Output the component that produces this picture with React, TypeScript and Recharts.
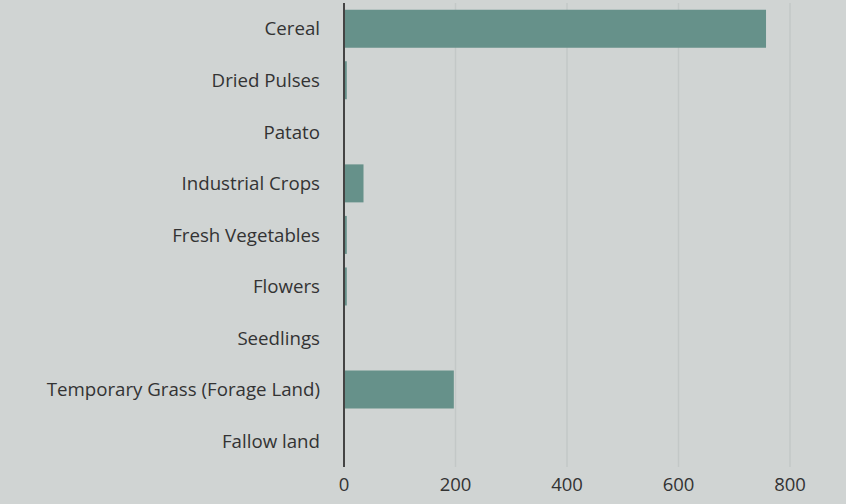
import React from "react";
import { BarChart, Bar, XAxis, YAxis, CartesianGrid } from "recharts";

const categories = [
  "Cereal",
  "Dried Pulses",
  "Patato",
  "Industrial Crops",
  "Fresh Vegetables",
  "Flowers",
  "Seedlings",
  "Temporary Grass (Forage Land)",
  "Fallow land",
];
const values = [757, 5, 0, 35, 5, 5, 0, 197, 0];
const xTicks = [0, 200, 400, 600, 800];

const data = categories.map((c, i) => ({ name: c, value: values[i] }));

const FONT = "'Open Sans', Lato, sans-serif";

export default function App() {
  return (
    <div
      style={{
        position: "absolute",
        left: 0,
        top: 0,
        width: 846,
        height: 504,
        background: "#d0d4d3",
      }}
    >
      <BarChart
        width={846}
        height={504}
        data={data}
        layout="vertical"
        margin={{ top: 3, right: 56, bottom: 0, left: 0 }}
        barCategoryGap="13%"
      >
        <CartesianGrid horizontal={false} vertical={true} stroke="#c3c8c7" strokeWidth={1.5} />
        <XAxis
          type="number"
          domain={[0, 800]}
          ticks={xTicks}
          axisLine={false}
          tickLine={false}
          tickSize={0}
          tickMargin={11}
          height={37}
          tick={{ fill: "#333", fontSize: 18.5, fontFamily: FONT }}
        />
        <YAxis
          type="category"
          dataKey="name"
          width={344}
          axisLine={{ stroke: "#444", strokeWidth: 2 }}
          tickLine={false}
          tickSize={0}
          tickMargin={24}
          interval={0}
          tick={{ fill: "#333", fontSize: 18.7, fontFamily: FONT }}
        />
        <Bar dataKey="value" fill="#66918a" isAnimationActive={false} />
      </BarChart>
    </div>
  );
}
